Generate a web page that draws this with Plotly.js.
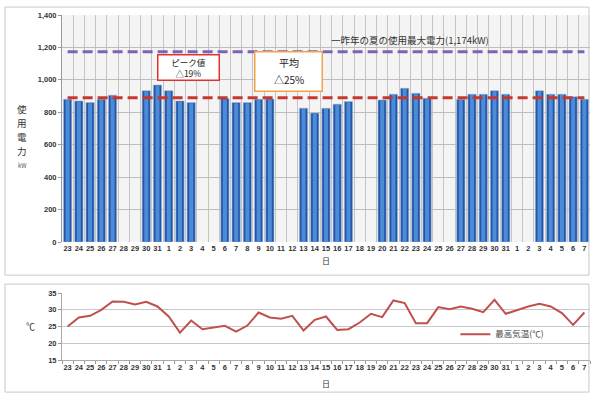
<!DOCTYPE html>
<html><head><meta charset="utf-8">
<script src="https://cdn.plot.ly/plotly-3.0.1.min.js"></script>
<style>html,body{margin:0;padding:0;background:#fff}#c{width:592px;height:394px}</style>
</head><body><div id="c"></div>
<script>
const days = ['23','24','25','26','27','28','29','30','31',
 '1','2','3','4','5','6','7','8','9','10','11','12','13','14','15','16','17','18','19','20','21','22','23','24','25','26','27','28','29','30','31',
 '1','2','3','4','5','6','7'];
const powerKW = [880,870,860,880,905,null,null,933,968,
 933,870,860,null,null,885,860,860,880,882,null,null,825,795,825,850,866,null,null,876,911,948,917,886,null,null,880,911,911,933,911,
 null,null,933,911,911,896,880];
const maxTemp = [25.0,27.7,28.2,30.0,32.5,32.4,31.6,32.4,31.0,
 28.0,23.2,26.8,24.2,24.7,25.2,23.5,25.3,29.2,27.7,27.3,28.2,23.8,27.0,28.0,24.0,24.2,26.2,28.8,27.8,32.8,32.0,26.0,26.0,30.8,30.2,31.0,30.3,29.3,33.0,28.8,
 30.0,31.0,31.8,31.0,29.0,25.5,29.2];
const prevMax = 1174;
const avgLine = 890;
const legendName = '最高気温(℃)';
const yTitleChars = ['使','用','電','力'];

const idx = days.map((_, i) => i);
const first = 0, last = days.length - 1;
const jp = '"Noto Sans CJK JP", "Liberation Sans", sans-serif';

const traces = [
 {type:'bar', x: idx, y: powerKW, width: 0.74, marker:{color:'#2456a6', line:{color:'#a9bedd', width:0.6}}, xaxis:'x', yaxis:'y', showlegend:false, hoverinfo:'skip'},
 {type:'bar', x: idx, y: powerKW.map(v => v == null ? null : v - 4), width: 0.36, marker:{color:'#4b8bd8'}, xaxis:'x', yaxis:'y', showlegend:false, hoverinfo:'skip'},
 {type:'scatter', mode:'lines', x:[first, last], y:[prevMax, prevMax], line:{color:'#7d63b6', width:3, dash:'10px,5px'}, xaxis:'x', yaxis:'y', showlegend:false},
 {type:'scatter', mode:'lines', x:[first, last], y:[avgLine, avgLine], line:{color:'#c8372d', width:3, dash:'10px,5px'}, xaxis:'x', yaxis:'y', showlegend:false},
 {type:'scatter', mode:'lines', x: idx, y: maxTemp, name: legendName, line:{color:'#c0504d', width:2}, xaxis:'x2', yaxis:'y2', showlegend:true}
];

const tickFont = {family:'"Liberation Sans", Arial, sans-serif', size:7.5, color:'#333', weight:700};

const charAnns = yTitleChars.map((ch, i) => ({xref:'paper', yref:'paper', x:-0.075, y:0.7275 - i*0.0406,
  xanchor:'center', yanchor:'middle', showarrow:false, text:ch, borderpad:0, font:{family:jp, size:9.5, color:'#333'}}));

const layout = {
 width:592, height:394,
 margin:{l:62, r:2, t:15, b:34},
 paper_bgcolor:'#fff', plot_bgcolor:'#fff',
 barmode:'overlay',
 showlegend:true,
 legend:{x:0.745, y:0.075, xanchor:'left', yanchor:'middle', bgcolor:'rgba(0,0,0,0)', itemwidth:30, font:{family:jp, size:8.5, color:'#444'}},
 xaxis:{domain:[0,1], anchor:'y', range:[-0.5, 46.5], tickmode:'array', tickvals: idx, ticktext: days,
  showgrid:false, zeroline:false, ticks:'', tickfont: tickFont, showline:false,
  minor:{tickmode:'linear', tick0:-0.5, dtick:1, showgrid:true, gridcolor:'#c4c4c4', gridwidth:1, ticks:''},
  title:{text:'日', font:{family:jp, size:8, color:'#333'}, standoff:6}},
 yaxis:{domain:[0.342,1], anchor:'x', range:[0,1400], dtick:200, tickformat:',d', showgrid:true, gridcolor:'#bdbdbd',
  zeroline:false, showline:true, linecolor:'#999', ticks:'outside', ticklen:3, tickcolor:'#999', tickfont: tickFont},
 xaxis2:{domain:[0,1], anchor:'y2', range:[-0.5, 46.5], tickmode:'array', tickvals: idx, ticktext: days,
  showgrid:false, zeroline:false, ticks:'', showline:true, linecolor:'#aaa', tickfont: tickFont,
  minor:{tickmode:'linear', tick0:-0.5, dtick:1, showgrid:false, ticks:'outside', ticklen:3, tickcolor:'#999'},
  title:{text:'日', font:{family:jp, size:8, color:'#333'}, standoff:10}},
 yaxis2:{domain:[0,0.194], anchor:'x2', range:[15,35], dtick:5, showgrid:true, gridcolor:'#c8c8c8', zeroline:false,
  showline:true, linecolor:'#aaa', ticks:'outside', ticklen:3, tickcolor:'#999', tickfont: tickFont},
 shapes:[
  {type:'rect', xref:'x domain', yref:'y domain', x0:0, x1:1, y0:0, y1:1, fillcolor:'#f4f4f4', line:{width:0}, layer:'below'},
  {type:'rect', xref:'paper', yref:'paper', x0:-0.108, x1:0.998, y0:0.246, y1:1.023, line:{color:'#c8c8c8', width:1}, fillcolor:'rgba(0,0,0,0)', layer:'below'},
  {type:'rect', xref:'paper', yref:'paper', x0:-0.108, x1:0.998, y0:-0.093, y1:0.220, line:{color:'#c8c8c8', width:1}, fillcolor:'rgba(0,0,0,0)', layer:'below'}
 ],
 annotations:[
  {xref:'x', yref:'y', x:23.3, y:1246, xanchor:'left', yanchor:'middle', showarrow:false,
   text:'一昨年の夏の使用最大電力(1,174kW)', font:{family:jp, size:9.5, color:'#333'}},
  {xref:'x', yref:'y', x:10.8, y:1075, showarrow:false, text:'ピーク値<br>△19%', width:58, height:22,
   font:{family:jp, size:8.5, color:'#222'}, bgcolor:'#fff', bordercolor:'#e0322c', borderwidth:1.5, borderpad:1},
  {xref:'x', yref:'y', x:19.7, y:1050, showarrow:false, text:' ', width:64, height:36,
   font:{family:jp, size:10, color:'#222'}, bgcolor:'#fff', bordercolor:'#f2a24a', borderwidth:1.5, borderpad:1},
  {xref:'x', yref:'y', x:19.7, y:1108, showarrow:false, text:'平均', borderpad:0,
   font:{family:jp, size:10, color:'#222'}},
  {xref:'x', yref:'y', x:19.7, y:1000, showarrow:false, text:'△25%', borderpad:0,
   font:{family:jp, size:10, color:'#222'}},
  ...charAnns,
  {xref:'paper', yref:'paper', x:-0.075, y:0.563, xanchor:'center', yanchor:'middle', showarrow:false, borderpad:0,
   text:'kW', font:{family:jp, size:6, color:'#555'}},
  {xref:'paper', yref:'paper', x:-0.06, y:0.097, xanchor:'center', yanchor:'middle', showarrow:false,
   text:'℃', font:{family:jp, size:9, color:'#333'}}
 ]
};
Plotly.newPlot('c', traces, layout, {staticPlot:true, displayModeBar:false});
</script></body></html>
